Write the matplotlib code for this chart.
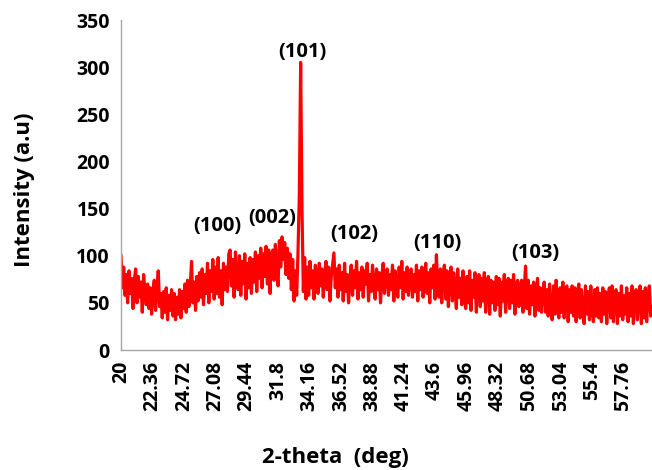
import numpy as np
import matplotlib.pyplot as plt

# XRD scan, 0.1 deg steps from 20.0 to 59.9
two_theta = np.round(np.arange(20.0, 59.95, 0.1), 2)
intensity = [
    100, 66, 88, 58, 80, 50, 84, 60, 76, 44, 74, 86, 50, 78, 56, 72, 40, 80, 62, 48,
    70, 44, 66, 38, 62, 74, 42, 64, 84, 46, 60, 34, 62, 40, 66, 32, 58, 42, 64, 36,
    60, 32, 56, 38, 64, 34, 62, 44, 70, 40, 74, 46, 66, 94, 50, 72, 42, 78, 52, 82,
    56, 86, 48, 80, 60, 92, 50, 84, 62, 96, 54, 88, 60, 98, 56, 84, 48, 92, 64, 88,
    62, 102, 106, 68, 96, 56, 104, 74, 64, 100, 58, 94, 70, 102, 54, 92, 66, 98, 60, 96,
    72, 104, 62, 100, 76, 108, 66, 102, 78, 110, 70, 106, 60, 98, 106, 74, 112, 84, 68, 116,
    88, 120, 96, 114, 80, 108, 76, 102, 64, 96, 52, 84, 58, 104, 165, 305, 150, 62, 98, 54,
    88, 58, 94, 66, 84, 54, 90, 80, 60, 92, 68, 86, 56, 80, 94, 64, 88, 52, 78, 90,
    103, 66, 86, 56, 90, 64, 82, 52, 92, 62, 80, 50, 76, 90, 58, 84, 66, 94, 54, 82,
    64, 88, 56, 84, 70, 92, 52, 80, 62, 90, 68, 54, 86, 64, 82, 50, 78, 92, 60, 80,
    86, 58, 80, 64, 90, 52, 84, 68, 56, 88, 66, 94, 54, 82, 62, 88, 58, 78, 86, 56,
    80, 62, 90, 52, 84, 64, 88, 56, 78, 92, 60, 82, 50, 86, 66, 90, 54, 101, 66, 56,
    86, 50, 80, 90, 54, 84, 46, 78, 88, 52, 82, 62, 44, 86, 56, 76, 48, 84, 58, 44,
    78, 50, 84, 42, 74, 56, 82, 40, 72, 80, 46, 76, 52, 82, 40, 70, 78, 38, 74, 50,
    72, 42, 78, 48, 76, 36, 72, 52, 80, 40, 68, 76, 44, 74, 50, 80, 38, 70, 74, 46,
    68, 74, 40, 64, 89, 44, 74, 38, 68, 48, 72, 36, 64, 76, 42, 66, 40, 62, 72, 40,
    64, 36, 70, 42, 32, 68, 38, 74, 44, 34, 66, 40, 72, 34, 62, 68, 30, 64, 40, 68,
    36, 66, 30, 60, 70, 34, 64, 40, 28, 68, 38, 62, 32, 68, 42, 30, 64, 36, 66, 34,
    60, 30, 66, 38, 62, 28, 58, 66, 34, 68, 30, 56, 64, 28, 60, 36, 68, 32, 58, 38,
    66, 30, 60, 36, 68, 28, 58, 64, 32, 56, 68, 28, 62, 34, 66, 30, 58, 68, 36, 46,
]

tick_pos = [20, 22.36, 24.72, 27.08, 29.44, 31.8, 34.16, 36.52, 38.88,
            41.24, 43.6, 45.96, 48.32, 50.68, 53.04, 55.4, 57.76]
tick_labels = ['20', '22.36', '24.72', '27.08', '29.44', '31.8', '34.16', '36.52', '38.88',
               '41.24', '43.6', '45.96', '48.32', '50.68', '53.04', '55.4', '57.76']

peak_labels = ['(100)', '(002)', '(101)', '(102)', '(110)', '(103)']
peak_x = [27.2, 31.35, 33.6, 37.5, 43.8, 51.1]
peak_y = [131, 140, 316, 123, 113, 103]

plt.rcParams['font.family'] = ['Open Sans', 'DejaVu Sans']

fig = plt.figure(figsize=(6.52, 4.70), dpi=100)
ax = fig.add_axes([121 / 652, 120 / 470, 531 / 652, 330 / 470])

ax.plot(two_theta, intensity, color='#ff0000', linewidth=2.3)

for lab, px, py in zip(peak_labels, peak_x, peak_y):
    ax.text(px, py, lab, ha='center', va='center', fontsize=14.5, fontweight='bold')

ax.set_xlim(20, 59.9)
ax.set_ylim(0, 350)
ax.set_yticks(range(0, 351, 50))
ax.set_xticks(tick_pos)
ax.set_xticklabels(tick_labels, rotation=90)
ax.tick_params(length=0, labelsize=14, pad=8)
for t in ax.get_xticklabels() + ax.get_yticklabels():
    t.set_fontweight('bold')

for s in ['top', 'right']:
    ax.spines[s].set_visible(False)
for s in ['left', 'bottom']:
    ax.spines[s].set_color('#a6a6a6')
    ax.spines[s].set_linewidth(1.0)

fig.text(25 / 652, 1 - 190 / 470, 'Intensity (a.u)', rotation=90, ha='center', va='center',
         fontsize=16, fontweight='bold')
fig.text(335 / 652, 1 - 458 / 470, '2-theta  (deg)', ha='center', va='center',
         fontsize=16, fontweight='bold')

fig.savefig('out.png', dpi=100)
